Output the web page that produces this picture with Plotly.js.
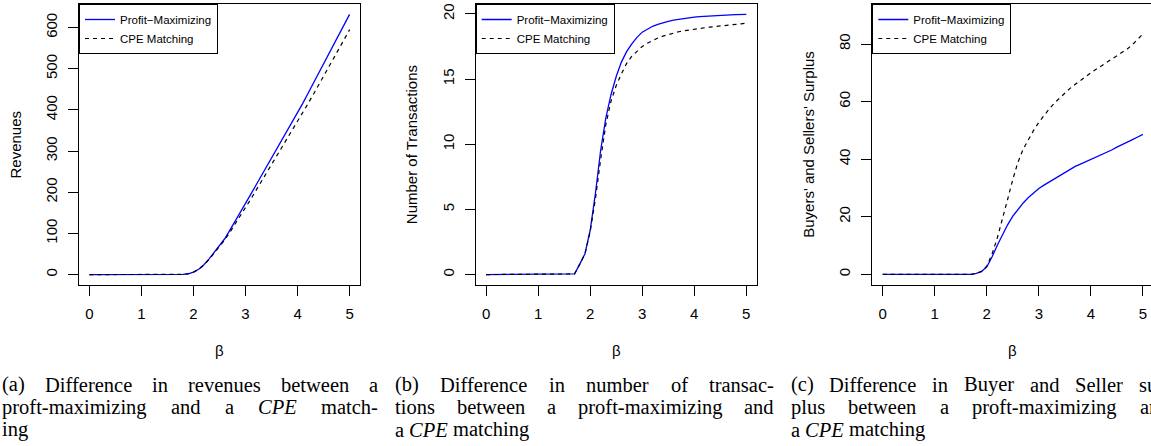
<!DOCTYPE html>
<html>
<head>
<meta charset="utf-8">
<script src="https://cdn.plot.ly/plotly-3.0.1.min.js"></script>
<style>html,body{margin:0;padding:0;background:#fff;overflow:hidden}</style>
</head>
<body>
<div id="chart" style="width:1151px;height:446px"></div>
<script>
// ---------------- data ----------------
const beta = [0,0.1,0.2,0.3,0.4,0.5,0.6,0.7,0.8,0.9,1,1.1,1.2,1.3,1.4,1.5,1.6,1.7,1.8,1.9,2,2.1,2.2,2.3,2.4,2.5,2.6,2.7,2.8,2.9,3,3.1,3.2,3.3,3.4,3.5,3.6,3.7,3.8,3.9,4,4.1,4.2,4.3,4.4,4.5,4.6,4.7,4.8,4.9,5];

const revenuesPM  = [0,0,0,0,0,0,0,0,0,0,0,0,0,0,0,0,0,0,0.5,2,6,13,24,38,54,70,87,108,129,151,173,195,217,239,260,282,304,326,348,370,392,416,440,464,488,512,536,560,584,608,632];
const revenuesCPE = [0,0,0,0,0,0,0,0,0,0,0,0,0,0,0,0,0,0,0.5,2,6,13,23,37,52,68,84,103,122,142,163,183,204,224,245,265,286,307,328,349,371,393,415,437,459,481,503,526,549,572,595];

const transPM  = [0,0,0,0,0,0,0,0,0,0,0,0,0,0,0,0,0,0.05,0.8,1.6,3.4,6.2,9.5,12.0,13.8,15.2,16.3,17.1,17.7,18.2,18.6,18.85,19.05,19.2,19.33,19.43,19.52,19.59,19.65,19.7,19.75,19.79,19.82,19.85,19.87,19.89,19.91,19.93,19.94,19.95,19.96];
const transCPE = [0,0,0,0,0,0,0,0,0,0,0,0,0,0,0,0,0,0.05,0.8,1.6,3.3,5.8,8.8,11.5,13.3,14.5,15.4,16.2,16.75,17.15,17.5,17.75,17.97,18.15,18.3,18.42,18.53,18.63,18.7,18.77,18.83,18.89,18.94,18.99,19.04,19.08,19.12,19.16,19.2,19.24,19.28];

const surplusPM  = [0,0,0,0,0,0,0,0,0,0,0,0,0,0,0,0,0,0,0.3,1.0,2.6,6,10,13.8,17.2,20.2,22.7,24.8,26.7,28.4,29.8,31.0,32.1,33.2,34.3,35.4,36.5,37.5,38.3,39.1,39.9,40.7,41.5,42.3,43.2,44.2,45,45.8,46.8,47.7,48.6];
const surplusCPE = [0,0,0,0,0,0,0,0,0,0,0,0,0,0,0,0,0,0,0.3,1.0,2.8,7,12.5,19,26,33,39,43.5,47,50,52.8,55.3,57.5,59.5,61.3,63,64.6,66,67.4,68.7,70,71.2,72.4,73.6,74.7,75.8,77,78.3,79.8,81.5,83.5];

const seriesNames = ["Profit\u2212Maximizing", "CPE Matching"];
const yTitles = ["Revenues", "Number of Transactions", "Buyers' and Sellers' Surplus"];
const xTitle = "\u03b2";
const xTicks = [0,1,2,3,4,5];
const yTicks1 = [0,100,200,300,400,500,600];
const yTicks2 = [0,5,10,15,20];
const yTicks3 = [0,20,40,60,80];

const captionA = ["(a) Difference in revenues between a", "proft-maximizing and a <i>CPE</i> match-", "ing"];
const captionB = ["(b) Difference in number of transac-", "tions between a proft-maximizing and", "a <i>CPE</i> matching"];
const captionC = ["(c) Difference in Buyer and Seller sur-", "plus between a proft-maximizing and", "a <i>CPE</i> matching"];

// ---------------- layout helpers ----------------
const W = 1151, H = 446;
const SANS = "Liberation Sans, Arial, Helvetica, sans-serif";
const SERIF = "Liberation Serif";
const px = v => v / W;
const py = v => 1 - v / H;

const plotTop = 4, plotBottom = 285;
const panels = [
  {left: 79, right: 360},
  {left: 475.7, right: 756.7},
  {left: 872.3, right: 1151}
];
const pxPerUnit = 281 / 5.4;

function xAxis(i) {
  const p = panels[i];
  const rmax = -0.2 + (p.right - p.left) / pxPerUnit;
  return {
    domain: [px(p.left), px(p.right)], range: [-0.2, rmax], anchor: 'y' + (i ? i + 1 : ''),
    tickvals: xTicks, ticks: 'outside', ticklen: 10, tickwidth: 1, tickcolor: '#000',
    showline: true, linecolor: '#000', linewidth: 1, mirror: true,
    showgrid: false, zeroline: false, ticklabelstandoff: 5,
    tickfont: {family: SANS, size: 15, color: '#000'}
  };
}
function yAxis(i, range, ticks, mirror) {
  return {
    domain: [py(plotBottom), py(plotTop)], range: range, anchor: 'x' + (i ? i + 1 : ''),
    tickvals: ticks, ticks: 'outside', ticklen: 10, tickwidth: 1, tickcolor: '#000',
    showline: true, linecolor: '#000', linewidth: 1, mirror: mirror,
    showgrid: false, zeroline: false, tickangle: -90, ticklabelstandoff: 5,
    tickfont: {family: SANS, size: 15, color: '#000'}
  };
}

const solid = {color: '#0000ff', width: 1.3};
const dashed = {color: '#000000', width: 1.2, dash: '4px,4px'};

const sets = [[revenuesPM, revenuesCPE], [transPM, transCPE], [surplusPM, surplusCPE]];
const traces = [];
sets.forEach((s, i) => {
  const suf = i ? String(i + 1) : '';
  traces.push({x: beta, y: s[0], type: 'scatter', mode: 'lines', name: seriesNames[0], line: solid,
    xaxis: 'x' + suf, yaxis: 'y' + suf, legend: 'legend' + suf});
  traces.push({x: beta, y: s[1], type: 'scatter', mode: 'lines', name: seriesNames[1], line: dashed,
    xaxis: 'x' + suf, yaxis: 'y' + suf, legend: 'legend' + suf});
});

function legendAt(i) {
  return {x: px(panels[i].left), y: py(plotTop), xanchor: 'left', yanchor: 'top',
    bgcolor: '#ffffff', bordercolor: '#000', borderwidth: 1,
    font: {family: SANS, size: 11.5, color: '#000'}, tracegroupgap: 0, itemwidth: 30};
}

const annotations = [];
// axis titles
panels.forEach((p, i) => {
  annotations.push({text: yTitles[i], xref: 'paper', yref: 'paper', x: px(p.left - 64), y: py((plotTop + plotBottom) / 2),
    xanchor: 'center', yanchor: 'middle', textangle: -90, showarrow: false,
    font: {family: SANS, size: 15, color: '#000'}});
  const right = i < 2 ? p.right : p.left + 281;
  annotations.push({text: xTitle, xref: 'paper', yref: 'paper', x: px((p.left + right) / 2), y: py(350),
    xanchor: 'center', yanchor: 'middle', showarrow: false,
    font: {family: SANS, size: 15, color: '#000'}});
});

// captions (justified, word by word)
const canvas = document.createElement('canvas');
const ctx = canvas.getContext('2d');
const CAP_SIZE = 20.5;
function wordWidth(w) {
  const italic = /^<i>.*<\/i>$/.test(w);
  const plain = w.replace(/<\/?i>/g, '');
  ctx.font = (italic ? 'italic ' : '') + CAP_SIZE + "px '" + SERIF + "'";
  return ctx.measureText(plain).width;
}
const capBlocks = [
  {x0: 1, width: 376, lines: captionA},
  {x0: 394, width: 379, lines: captionB},
  {x0: 790, width: 379, lines: captionC}
];
const lineCenters = [384.5, 407, 429.5];
capBlocks.forEach(b => {
  b.lines.forEach((line, li) => {
    const words = line.split(' ');
    const widths = words.map(wordWidth);
    const total = widths.reduce((a, c) => a + c, 0);
    const justify = li < b.lines.length - 1;
    ctx.font = CAP_SIZE + "px '" + SERIF + "'";
    const gap = justify ? (b.width - total) / (words.length - 1) : ctx.measureText(' ').width;
    let x = b.x0;
    words.forEach((w, wi) => {
      annotations.push({text: w, xref: 'paper', yref: 'paper', x: px(x - 1), y: py(lineCenters[li]),
        xanchor: 'left', yanchor: 'middle', showarrow: false,
        font: {family: SERIF, size: CAP_SIZE, color: '#000'}});
      x += widths[wi] + gap;
    });
  });
});

const layout = {
  width: W, height: H, margin: {l: 0, r: 0, t: 0, b: 0},
  paper_bgcolor: '#fff', plot_bgcolor: '#fff', showlegend: true,
  xaxis: xAxis(0), xaxis2: xAxis(1), xaxis3: xAxis(2),
  yaxis: yAxis(0, [-25.3, 657.3], yTicks1, true),
  yaxis2: yAxis(1, [-0.8, 20.76], yTicks2, true),
  yaxis3: yAxis(2, [-3.7, 93.9], yTicks3, false),
  legend: legendAt(0), legend2: legendAt(1), legend3: legendAt(2),
  annotations: annotations
};

Plotly.newPlot('chart', traces, layout, {displayModeBar: false, staticPlot: true});
</script>
</body>
</html>
